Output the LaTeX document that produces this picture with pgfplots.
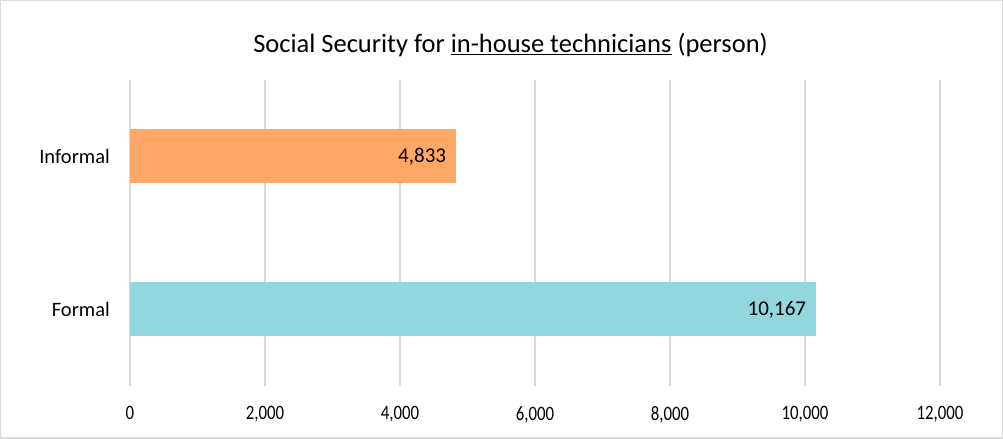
\documentclass[border=0pt]{standalone}
\usepackage{fontspec}
\setmainfont{Carlito}
\usepackage{pgfplots}
\pgfplotsset{compat=1.18}
\definecolor{orangebar}{HTML}{FFA866}
\definecolor{tealbar}{HTML}{92D6DE}
\definecolor{gridgray}{HTML}{D9D9D9}
\begin{document}
\begin{tikzpicture}[x=1bp,y=1bp]
\useasboundingbox (0,0) rectangle (1003,439);
\draw[gridgray, line width=1.5bp] (0.75,0.75) rectangle (1002.25,438.25);
\node[font=\fontsize{26.5bp}{30bp}\selectfont, inner sep=0pt] at (510.5,394) {Social Security for \underline{in-house technicians} (person)};
\begin{axis}[
  at={(130bp,53bp)}, anchor=south west,
  scale only axis, width=810bp, height=306bp,
  xmin=0, xmax=12000, ymin=-0.5, ymax=1.5,
  xtick={0,2000,4000,6000,8000,10000,12000},
  scaled x ticks=false,
  ytick={0,1}, yticklabels={Formal,Informal},
  xmajorgrids, grid style={gridgray, line width=1.5bp},
  axis line style={draw=none}, major tick length=0pt,
  /pgf/number format/.cd, 1000 sep={,}, assume math mode=true,
  /pgfplots/.cd,
  xticklabel={\scalebox{0.82}[1]{\pgfmathprintnumber{\tick}}},
  xticklabel style={font=\fontsize{20.5bp}{24bp}\selectfont, anchor=north, inner sep=0pt, yshift=-20.5bp},
  yticklabel style={font=\fontsize{20.5bp}{24bp}\selectfont, anchor=east, inner sep=0pt, xshift=-20bp},
  point meta=x,
  nodes near coords,
  every node near coord/.append style={anchor=east, inner sep=0pt, xshift=-10bp, font=\fontsize{21bp}{24bp}\selectfont, text=black},
]
\addplot[xbar, bar width=54bp, bar shift=0pt, fill=tealbar, draw=none] coordinates {(10167,0)};
\addplot[xbar, bar width=54bp, bar shift=0pt, fill=orangebar, draw=none] coordinates {(4833,1)};
\end{axis}
\end{tikzpicture}
\end{document}
